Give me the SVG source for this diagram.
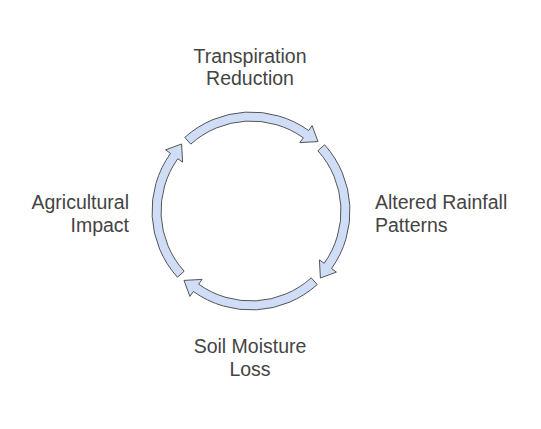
<svg xmlns="http://www.w3.org/2000/svg" width="541" height="429" viewBox="0 0 541 429">
<style>
.arr{fill:#d0ddf7;stroke:#555;stroke-width:1;stroke-linejoin:miter}
.lbl{font-family:"Liberation Sans",Arial,sans-serif;font-size:19.5px;fill:#444}
</style>
<defs>
<path id="arc" d="M -66.24 -73.57 A 99 99 0 0 1 57.6 -80.5 L 61.1 -85.4 L 67.03 -69.42 L 48.9 -68.4 L 52.3 -73.2 A 90 90 0 0 0 -60.22 -66.88 Z"/>
</defs>
<rect width="541" height="429" fill="#fff"/>
<g id="connectors" transform="translate(251,211)">
<use href="#arc" class="arr"/>
<use href="#arc" class="arr" transform="rotate(90)"/>
<use href="#arc" class="arr" transform="rotate(180)"/>
<use href="#arc" class="arr" transform="rotate(270)"/>
</g>
<g id="node-transpiration"><text class="lbl" text-anchor="middle" x="250" y="62.5">Transpiration</text><text class="lbl" text-anchor="middle" x="250" y="85">Reduction</text></g>
<g id="node-rainfall"><text class="lbl" x="375" y="209">Altered Rainfall</text><text class="lbl" x="375" y="231.5">Patterns</text></g>
<g id="node-soil"><text class="lbl" text-anchor="middle" x="250" y="353">Soil Moisture</text><text class="lbl" text-anchor="middle" x="250" y="375.5">Loss</text></g>
<g id="node-agri"><text class="lbl" text-anchor="end" x="129" y="209">Agricultural</text><text class="lbl" text-anchor="end" x="129" y="231.5">Impact</text></g>
</svg>
